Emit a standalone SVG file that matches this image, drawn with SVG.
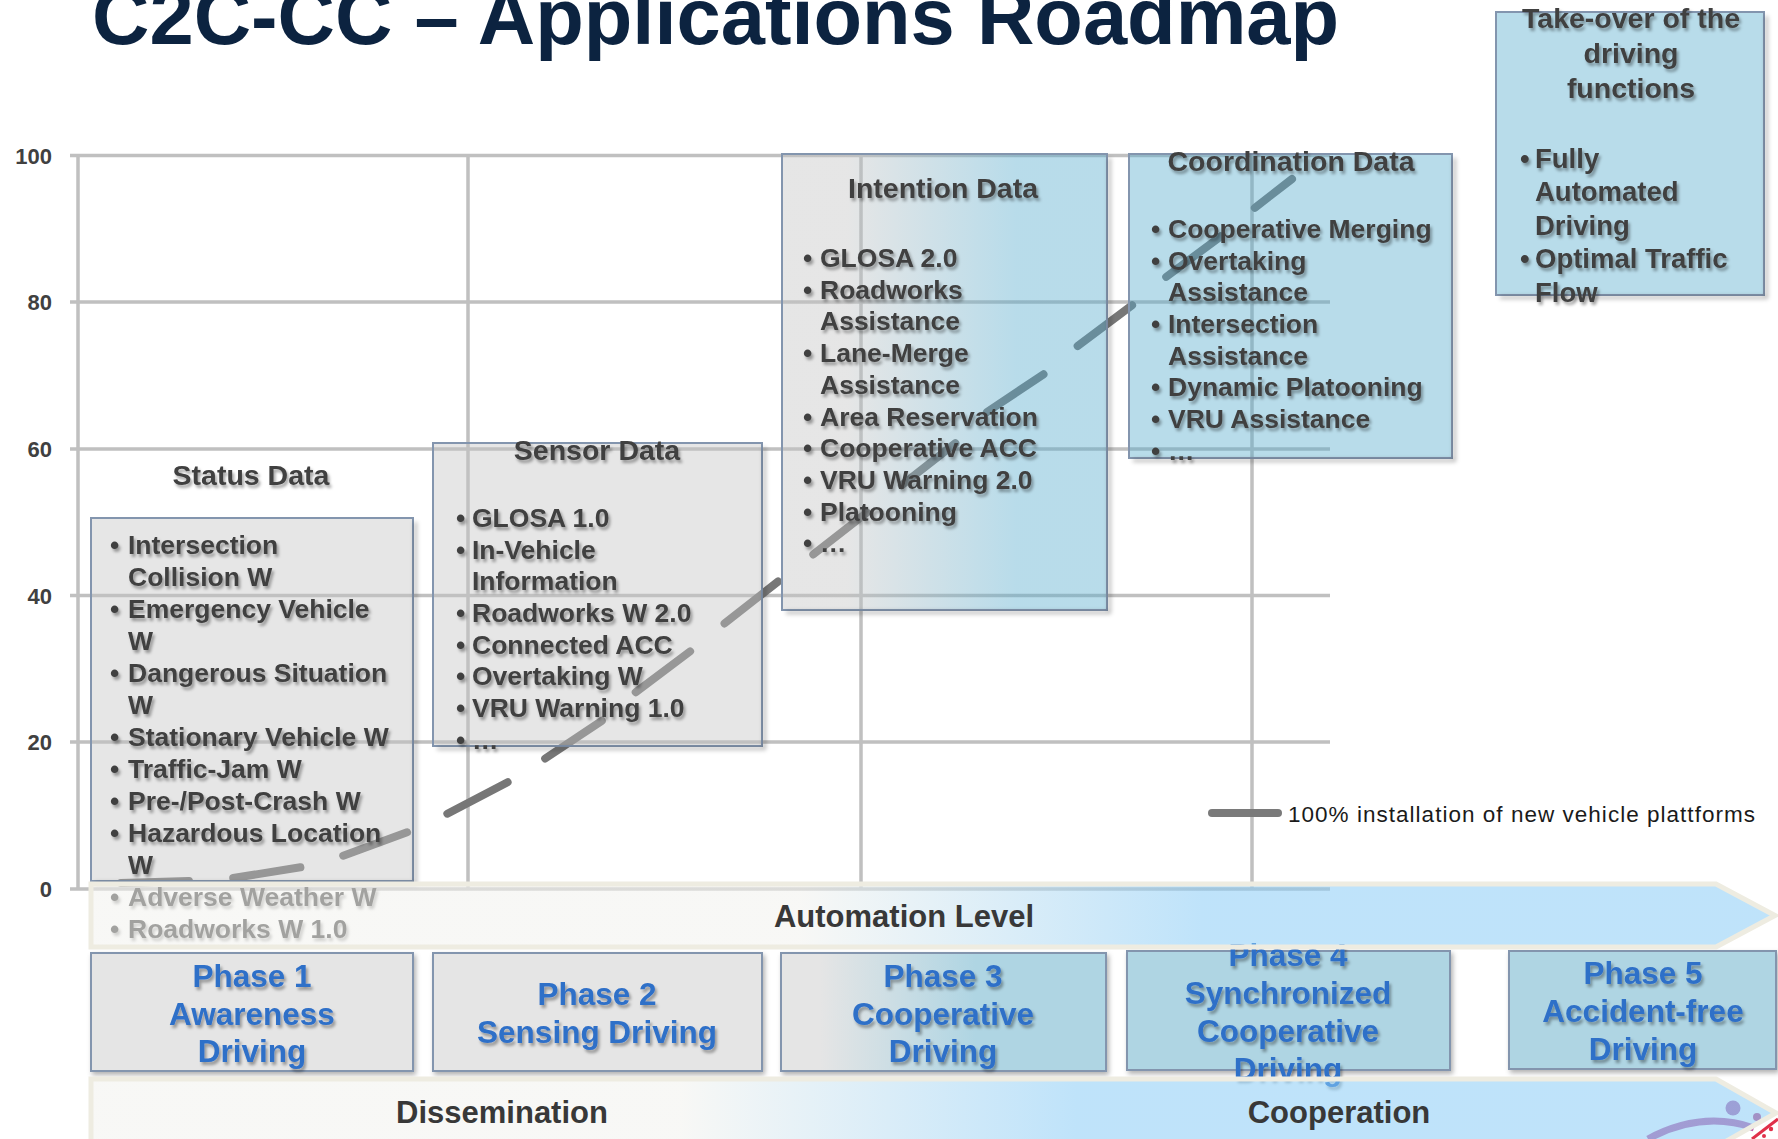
<svg xmlns="http://www.w3.org/2000/svg" width="1778" height="1139" viewBox="0 0 1778 1139">
<defs>
<style>
.f{font-family:"Liberation Sans",Arial,Helvetica,sans-serif;font-weight:bold}
.it{font-size:26.5px;fill:#404040}
.hd{font-size:28.5px;fill:#404040;text-anchor:middle}
.tk{font-size:27.5px;fill:#404040}
.ph{font-size:31.5px;fill:#2f6fc8;text-anchor:middle}
.ax{font-size:22px;fill:#404040;text-anchor:end}
.ar{font-size:31px;fill:#383838;text-anchor:middle}
.grid{stroke:#c0c0c0;stroke-width:3.5;fill:none}
.bx{stroke:#8395ae;stroke-width:2}
.gray{fill:#c3c3c3;fill-opacity:0.42}
.blue{fill:#56abcd;fill-opacity:0.42}
.pg{fill:#e5e5e5}
.pb{fill:#afd5e3}
.sh{fill:none;stroke:#000;stroke-opacity:0.28;stroke-width:3;filter:url(#blur)}
.arw{stroke:#eeece1;stroke-width:5;fill-opacity:0.55;stroke-linejoin:miter}
</style>
<linearGradient id="gInt" x1="0" y1="0" x2="1" y2="0"><stop offset="0.2" stop-color="#c3c3c3"/><stop offset="0.72" stop-color="#56abcd"/></linearGradient>
<linearGradient id="gP3" x1="0" y1="0" x2="1" y2="0"><stop offset="0.12" stop-color="#e5e5e5"/><stop offset="0.6" stop-color="#afd5e3"/></linearGradient>
<linearGradient id="gA" gradientUnits="userSpaceOnUse" x1="91" y1="0" x2="1776" y2="0"><stop offset="0.42" stop-color="#f2f2ee"/><stop offset="0.66" stop-color="#8accf6"/></linearGradient>
<linearGradient id="gC" gradientUnits="userSpaceOnUse" x1="91" y1="0" x2="1776" y2="0"><stop offset="0.35" stop-color="#f2f2ee"/><stop offset="0.585" stop-color="#8accf6"/></linearGradient>
<filter id="blur" x="-10%" y="-10%" width="120%" height="120%"><feGaussianBlur stdDeviation="2"/></filter>
<filter id="ts" x="-5%" y="-30%" width="110%" height="160%"><feGaussianBlur in="SourceAlpha" stdDeviation="1.6"/><feOffset dx="2" dy="2.5" result="b"/><feFlood flood-color="#000" flood-opacity="0.35"/><feComposite in2="b" operator="in"/><feMerge><feMergeNode/><feMergeNode in="SourceGraphic"/></feMerge></filter>
<filter id="ds" x="-5%" y="-5%" width="115%" height="120%"><feDropShadow dx="2" dy="3" stdDeviation="2.5" flood-color="#000" flood-opacity="0.3"/></filter>
</defs>
<rect width="1778" height="1139" fill="#ffffff"/>

<text class="f" x="92" y="44" font-size="79.5" fill="#0c2340">C2C-CC – Applications Roadmap</text>

<g id="chart-grid">
<path class="grid" d="M70,155.5H1330M70,302H1330M70,449H1330M70,595.5H1330M70,742H1330M70,889H1330M78,155.5V889M468,155.5V889M861,155.5V889M1252,155.5V889"/>
<text class="f ax" x="52" y="163.5">100</text>
<text class="f ax" x="52" y="310">80</text>
<text class="f ax" x="52" y="457">60</text>
<text class="f ax" x="52" y="603.5">40</text>
<text class="f ax" x="52" y="750">20</text>
<text class="f ax" x="52" y="897">0</text>
</g>

<g id="connectors">
<path id="series-line" d="M117,883 L193,881 L227,879 L302,867 L337,858 L408,832 L441,817 L508,782 L540,762 L603,720 L632,695 L692,650 L720,627 L780,580 L810,557 L957,442 L987,412 L1047,372 L1075,348 L1135,303 L1162,280 L1220,237 L1252,210 L1292,179" fill="none" stroke="#777777" stroke-width="8" stroke-linecap="round" stroke-linejoin="round" stroke-dasharray="68 44.4" stroke-dashoffset="-4"/>
</g>

<g id="status-data">
<rect class="bx gray" x="91" y="518" width="322" height="363"/>
<path class="sh" d="M95,883.5H415.5V522"/>
<g filter="url(#ts)">
<text class="f hd" x="251" y="485">Status Data</text>
<text class="f it" y="554"><tspan x="110">•</tspan><tspan x="128">Intersection</tspan></text>
<text class="f it" x="128" y="586">Collision W</text>
<text class="f it" y="618"><tspan x="110">•</tspan><tspan x="128">Emergency Vehicle</tspan></text>
<text class="f it" x="128" y="650">W</text>
<text class="f it" y="682"><tspan x="110">•</tspan><tspan x="128">Dangerous Situation</tspan></text>
<text class="f it" x="128" y="714">W</text>
<text class="f it" y="746"><tspan x="110">•</tspan><tspan x="128">Stationary Vehicle W</tspan></text>
<text class="f it" y="778"><tspan x="110">•</tspan><tspan x="128">Traffic-Jam W</tspan></text>
<text class="f it" y="810"><tspan x="110">•</tspan><tspan x="128">Pre-/Post-Crash W</tspan></text>
<text class="f it" y="842"><tspan x="110">•</tspan><tspan x="128">Hazardous Location</tspan></text>
<text class="f it" x="128" y="874">W</text>
<text class="f it" y="906"><tspan x="110">•</tspan><tspan x="128">Adverse Weather W</tspan></text>
<text class="f it" y="938"><tspan x="110">•</tspan><tspan x="128">Roadworks W 1.0</tspan></text>
</g>
</g>

<g id="sensor-data">
<rect class="bx gray" x="433" y="443" width="329" height="303"/>
<path class="sh" d="M437,748.5H764.5V447"/>
<g filter="url(#ts)">
<text class="f hd" x="597" y="460">Sensor Data</text>
<text class="f it" y="527"><tspan x="456">•</tspan><tspan x="472">GLOSA 1.0</tspan></text>
<text class="f it" y="559"><tspan x="456">•</tspan><tspan x="472">In-Vehicle</tspan></text>
<text class="f it" x="472" y="590">Information</text>
<text class="f it" y="622"><tspan x="456">•</tspan><tspan x="472">Roadworks W 2.0</tspan></text>
<text class="f it" y="654"><tspan x="456">•</tspan><tspan x="472">Connected ACC</tspan></text>
<text class="f it" y="685"><tspan x="456">•</tspan><tspan x="472">Overtaking W</tspan></text>
<text class="f it" y="717"><tspan x="456">•</tspan><tspan x="472">VRU Warning 1.0</tspan></text>
<text class="f it" y="749"><tspan x="456">•</tspan><tspan x="472">…</tspan></text>
</g>
</g>

<g id="intention-data">
<rect class="bx" x="782" y="154" width="325" height="456" fill="url(#gInt)" fill-opacity="0.42"/>
<path class="sh" d="M786,612.5H1109.5V158"/>
<g filter="url(#ts)">
<text class="f hd" x="943" y="198">Intention Data</text>
<text class="f it" y="267"><tspan x="803">•</tspan><tspan x="820">GLOSA 2.0</tspan></text>
<text class="f it" y="299"><tspan x="803">•</tspan><tspan x="820">Roadworks</tspan></text>
<text class="f it" x="820" y="330">Assistance</text>
<text class="f it" y="362"><tspan x="803">•</tspan><tspan x="820">Lane-Merge</tspan></text>
<text class="f it" x="820" y="394">Assistance</text>
<text class="f it" y="426"><tspan x="803">•</tspan><tspan x="820">Area Reservation</tspan></text>
<text class="f it" y="457"><tspan x="803">•</tspan><tspan x="820">Cooperative ACC</tspan></text>
<text class="f it" y="489"><tspan x="803">•</tspan><tspan x="820">VRU Warning 2.0</tspan></text>
<text class="f it" y="521"><tspan x="803">•</tspan><tspan x="820">Platooning</tspan></text>
<text class="f it" y="552"><tspan x="803">•</tspan><tspan x="820">…</tspan></text>
</g>
</g>

<g id="coordination-data">
<rect class="bx blue" x="1129" y="154" width="323" height="304"/>
<path class="sh" d="M1133,460.5H1454.5V158"/>
<g filter="url(#ts)">
<text class="f hd" x="1291" y="171">Coordination Data</text>
<text class="f it" y="238"><tspan x="1151">•</tspan><tspan x="1168">Cooperative Merging</tspan></text>
<text class="f it" y="270"><tspan x="1151">•</tspan><tspan x="1168">Overtaking</tspan></text>
<text class="f it" x="1168" y="301">Assistance</text>
<text class="f it" y="333"><tspan x="1151">•</tspan><tspan x="1168">Intersection</tspan></text>
<text class="f it" x="1168" y="365">Assistance</text>
<text class="f it" y="396"><tspan x="1151">•</tspan><tspan x="1168">Dynamic Platooning</tspan></text>
<text class="f it" y="428"><tspan x="1151">•</tspan><tspan x="1168">VRU Assistance</tspan></text>
<text class="f it" y="460"><tspan x="1151">•</tspan><tspan x="1168">…</tspan></text>
</g>
</g>

<g id="take-over">
<rect class="bx blue" x="1496" y="12" width="268" height="283"/>
<path class="sh" d="M1500,297.5H1766.5V16"/>
<g filter="url(#ts)">
<text class="f hd" x="1631" y="28">Take-over of the</text>
<text class="f hd" x="1631" y="63">driving</text>
<text class="f hd" x="1631" y="98">functions</text>
<text class="f tk" y="168"><tspan x="1520">•</tspan><tspan x="1535">Fully</tspan></text>
<text class="f tk" x="1535" y="201">Automated</text>
<text class="f tk" x="1535" y="235">Driving</text>
<text class="f tk" y="268"><tspan x="1520">•</tspan><tspan x="1535">Optimal Traffic</tspan></text>
<text class="f tk" x="1535" y="302">Flow</text>
</g>
</g>

<g id="phase-1">
<rect class="bx pg" x="91" y="953" width="322" height="118" filter="url(#ds)"/>
<g filter="url(#ts)">
<text class="f ph" x="252" y="987">Phase 1</text>
<text class="f ph" x="252" y="1025">Awareness</text>
<text class="f ph" x="252" y="1062">Driving</text>
</g>
</g>
<g id="phase-2">
<rect class="bx pg" x="433" y="953" width="329" height="118" filter="url(#ds)"/>
<g filter="url(#ts)">
<text class="f ph" x="597" y="1005">Phase 2</text>
<text class="f ph" x="597" y="1043">Sensing Driving</text>
</g>
</g>
<g id="phase-3">
<rect class="bx" x="781" y="953" width="325" height="118" fill="url(#gP3)" filter="url(#ds)"/>
<g filter="url(#ts)">
<text class="f ph" x="943" y="987">Phase 3</text>
<text class="f ph" x="943" y="1025">Cooperative</text>
<text class="f ph" x="943" y="1062">Driving</text>
</g>
</g>
<g id="phase-4">
<rect class="bx pb" x="1127" y="951" width="323" height="119" filter="url(#ds)"/>
<g filter="url(#ts)">
<text class="f ph" x="1288" y="966">Phase 4</text>
<text class="f ph" x="1288" y="1004">Synchronized</text>
<text class="f ph" x="1288" y="1042">Cooperative</text>
<text class="f ph" x="1288" y="1080">Driving</text>
</g>
</g>
<g id="phase-5">
<rect class="bx pb" x="1509" y="951" width="267" height="118" filter="url(#ds)"/>
<g filter="url(#ts)">
<text class="f ph" x="1643" y="984">Phase 5</text>
<text class="f ph" x="1643" y="1022">Accident-free</text>
<text class="f ph" x="1643" y="1060">Driving</text>
</g>
</g>

<g id="logo">
<path d="M1648,1139 Q1702,1110 1754,1128" fill="none" stroke="#b3479a" stroke-width="7" stroke-opacity="0.85"/>
<circle cx="1733" cy="1108" r="7.5" fill="#b36bb0"/>
<circle cx="1757" cy="1117" r="4" fill="#c04a8a"/>
<path d="M1752,1139 L1778,1119" fill="none" stroke="#e0304a" stroke-width="3"/>
<circle cx="1771" cy="1129" r="2.2" fill="#e0304a"/>
<circle cx="1764" cy="1136" r="2" fill="#e0304a"/>
</g>

<g id="automation-level">
<path class="arw" d="M91,884H1716L1775,915.5L1716,947H91Z" fill="url(#gA)"/>
<text class="f ar" x="904" y="927">Automation Level</text>
</g>

<g id="dissemination-cooperation">
<path class="arw" d="M91,1079H1716L1776,1113L1716,1147H91Z" fill="url(#gC)"/>
<text class="f ar" x="502" y="1123">Dissemination</text>
<text class="f ar" x="1339" y="1123">Cooperation</text>
</g>

<g id="legend">
<line x1="1212" y1="813" x2="1278" y2="813" stroke="#7a7a7a" stroke-width="8" stroke-linecap="round"/>
<text x="1288" y="822" font-family="'Liberation Sans',Arial,sans-serif" font-size="22.5" fill="#1a1a1a" textLength="467" lengthAdjust="spacing">100% installation of new vehicle plattforms</text>
</g>
</svg>
